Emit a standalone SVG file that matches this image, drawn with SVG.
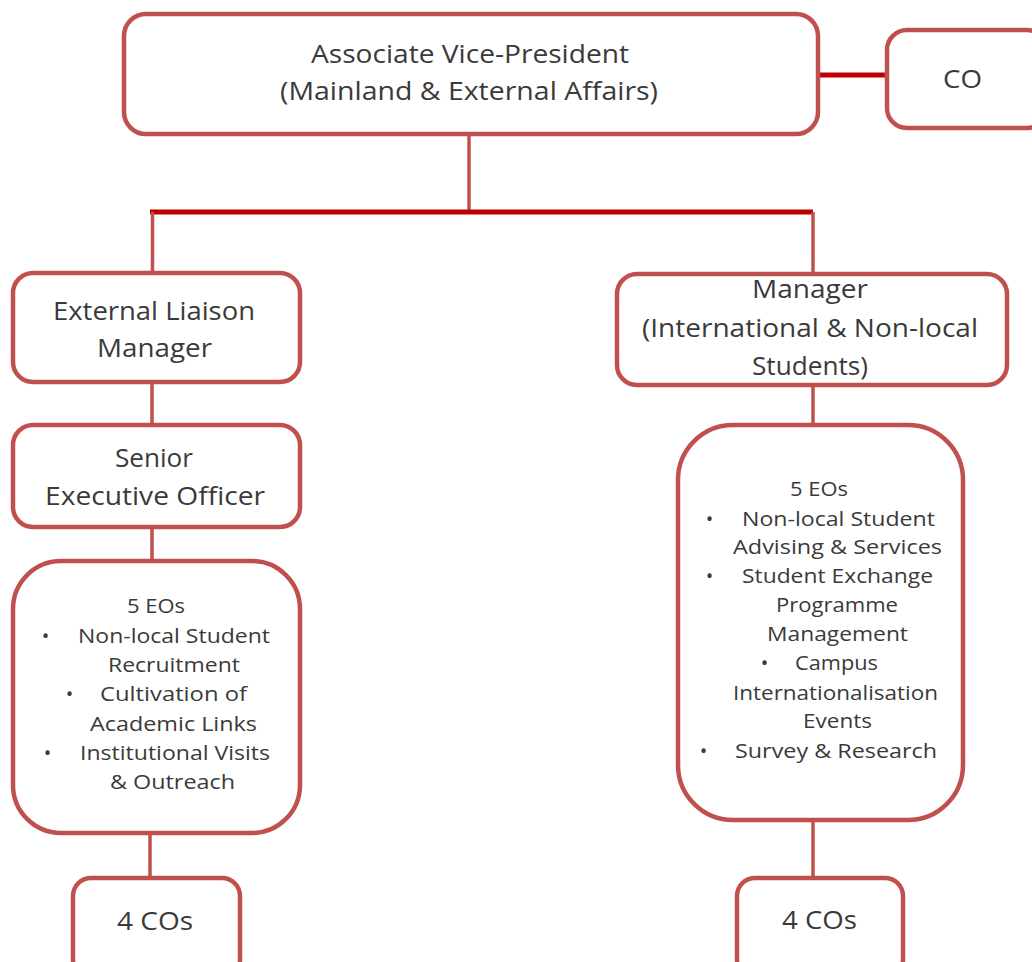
<svg xmlns="http://www.w3.org/2000/svg" width="1032" height="962" viewBox="0 0 1032 962">
<style>
.box{fill:#fff;stroke:#C0504D;stroke-width:4.5}
.ln{stroke:#C0504D;stroke-width:3.5;fill:none}
.bar{stroke:#C00000;stroke-width:5;fill:none}
text{font-family:"Open Sans","Liberation Sans",sans-serif;fill:#3a3a3a}
.t1{font-size:26px}
.t2{font-size:20px}
</style>
<rect width="1032" height="962" fill="#fff"/>
<g id="connectors">
<line class="bar" x1="818" y1="75" x2="887" y2="75"/>
<line class="ln" x1="469" y1="134" x2="469" y2="212"/>
<line class="bar" x1="150" y1="212" x2="813" y2="212"/>
<line class="ln" x1="152.5" y1="212" x2="152.5" y2="273"/>
<line class="ln" x1="813" y1="212" x2="813" y2="274"/>
<line class="ln" x1="152" y1="382" x2="152" y2="425"/>
<line class="ln" x1="152" y1="527" x2="152" y2="561"/>
<line class="ln" x1="150" y1="833" x2="150" y2="878"/>
<line class="ln" x1="813" y1="385" x2="813" y2="425"/>
<line class="ln" x1="813" y1="820" x2="813" y2="878"/>
</g>
<g id="avp">
<rect class="box" x="124" y="14" width="694" height="120" rx="22"/>
<text class="t1" x="470" y="63" text-anchor="middle" textLength="318" lengthAdjust="spacingAndGlyphs">Associate Vice-President</text>
<text class="t1" x="469" y="100" text-anchor="middle" textLength="378" lengthAdjust="spacingAndGlyphs">(Mainland &amp; External Affairs)</text>
</g>
<g id="co">
<rect class="box" x="887" y="30" width="160" height="98" rx="20"/>
<text class="t1" x="962.5" y="88" text-anchor="middle" textLength="39" lengthAdjust="spacingAndGlyphs">CO</text>
</g>
<g id="elm">
<rect class="box" x="13" y="273" width="287" height="109" rx="20"/>
<text class="t1" x="154" y="320" text-anchor="middle" textLength="202" lengthAdjust="spacingAndGlyphs">External Liaison</text>
<text class="t1" x="154.5" y="357" text-anchor="middle" textLength="115" lengthAdjust="spacingAndGlyphs">Manager</text>
</g>
<g id="seo">
<rect class="box" x="13" y="425" width="287" height="102" rx="20"/>
<text class="t1" x="154" y="467" text-anchor="middle" textLength="78" lengthAdjust="spacingAndGlyphs">Senior</text>
<text class="t1" x="155" y="505" text-anchor="middle" textLength="220" lengthAdjust="spacingAndGlyphs">Executive Officer</text>
</g>
<g id="eo-left">
<rect class="box" x="13" y="561" width="287" height="272" rx="48"/>
<text class="t2" x="156" y="613" text-anchor="middle" textLength="58" lengthAdjust="spacingAndGlyphs">5 EOs</text>
<text class="t2" x="45.5" y="643" text-anchor="middle">•</text>
<text class="t2" x="174" y="643" text-anchor="middle" textLength="192" lengthAdjust="spacingAndGlyphs">Non-local Student</text>
<text class="t2" x="174" y="672" text-anchor="middle" textLength="132" lengthAdjust="spacingAndGlyphs">Recruitment</text>
<text class="t2" x="69.5" y="701" text-anchor="middle">•</text>
<text class="t2" x="173.5" y="701" text-anchor="middle" textLength="147" lengthAdjust="spacingAndGlyphs">Cultivation  of</text>
<text class="t2" x="173.5" y="731" text-anchor="middle" textLength="167" lengthAdjust="spacingAndGlyphs">Academic Links</text>
<text class="t2" x="47.5" y="760" text-anchor="middle">•</text>
<text class="t2" x="175" y="760" text-anchor="middle" textLength="190" lengthAdjust="spacingAndGlyphs">Institutional  Visits</text>
<text class="t2" x="172.5" y="789" text-anchor="middle" textLength="125" lengthAdjust="spacingAndGlyphs">&amp; Outreach</text>
</g>
<g id="cos-left">
<rect class="box" x="73" y="878" width="167" height="100" rx="18"/>
<text class="t1" x="155" y="930" text-anchor="middle" textLength="76" lengthAdjust="spacingAndGlyphs">4 COs</text>
</g>
<g id="mgr">
<rect class="box" x="617" y="274" width="390" height="111" rx="20"/>
<text class="t1" x="810" y="298" text-anchor="middle" textLength="116" lengthAdjust="spacingAndGlyphs">Manager</text>
<text class="t1" x="810" y="337" text-anchor="middle" textLength="336" lengthAdjust="spacingAndGlyphs">(International &amp; Non-local</text>
<text class="t1" x="810" y="375" text-anchor="middle" textLength="116" lengthAdjust="spacingAndGlyphs">Students)</text>
</g>
<g id="eo-right">
<rect class="box" x="678" y="425" width="285" height="395" rx="55"/>
<text class="t2" x="819" y="496" text-anchor="middle" textLength="58" lengthAdjust="spacingAndGlyphs">5 EOs</text>
<text class="t2" x="709.5" y="526" text-anchor="middle">•</text>
<text class="t2" x="838.5" y="526" text-anchor="middle" textLength="193" lengthAdjust="spacingAndGlyphs">Non-local Student</text>
<text class="t2" x="837.5" y="554" text-anchor="middle" textLength="209" lengthAdjust="spacingAndGlyphs">Advising &amp; Services</text>
<text class="t2" x="709.5" y="583" text-anchor="middle">•</text>
<text class="t2" x="837.5" y="583" text-anchor="middle" textLength="191" lengthAdjust="spacingAndGlyphs">Student Exchange</text>
<text class="t2" x="837" y="612" text-anchor="middle" textLength="122" lengthAdjust="spacingAndGlyphs">Programme</text>
<text class="t2" x="837.5" y="641" text-anchor="middle" textLength="141" lengthAdjust="spacingAndGlyphs">Management</text>
<text class="t2" x="764.5" y="670" text-anchor="middle">•</text>
<text class="t2" x="836.5" y="670" text-anchor="middle" textLength="83" lengthAdjust="spacingAndGlyphs">Campus</text>
<text class="t2" x="835.5" y="700" text-anchor="middle" textLength="205" lengthAdjust="spacingAndGlyphs">Internationalisation</text>
<text class="t2" x="837.5" y="728" text-anchor="middle" textLength="69" lengthAdjust="spacingAndGlyphs">Events</text>
<text class="t2" x="703.5" y="758" text-anchor="middle">•</text>
<text class="t2" x="836" y="758" text-anchor="middle" textLength="202" lengthAdjust="spacingAndGlyphs">Survey &amp; Research</text>
</g>
<g id="cos-right">
<rect class="box" x="737" y="878" width="166" height="100" rx="18"/>
<text class="t1" x="819.5" y="929" text-anchor="middle" textLength="75" lengthAdjust="spacingAndGlyphs">4 COs</text>
</g>
</svg>
